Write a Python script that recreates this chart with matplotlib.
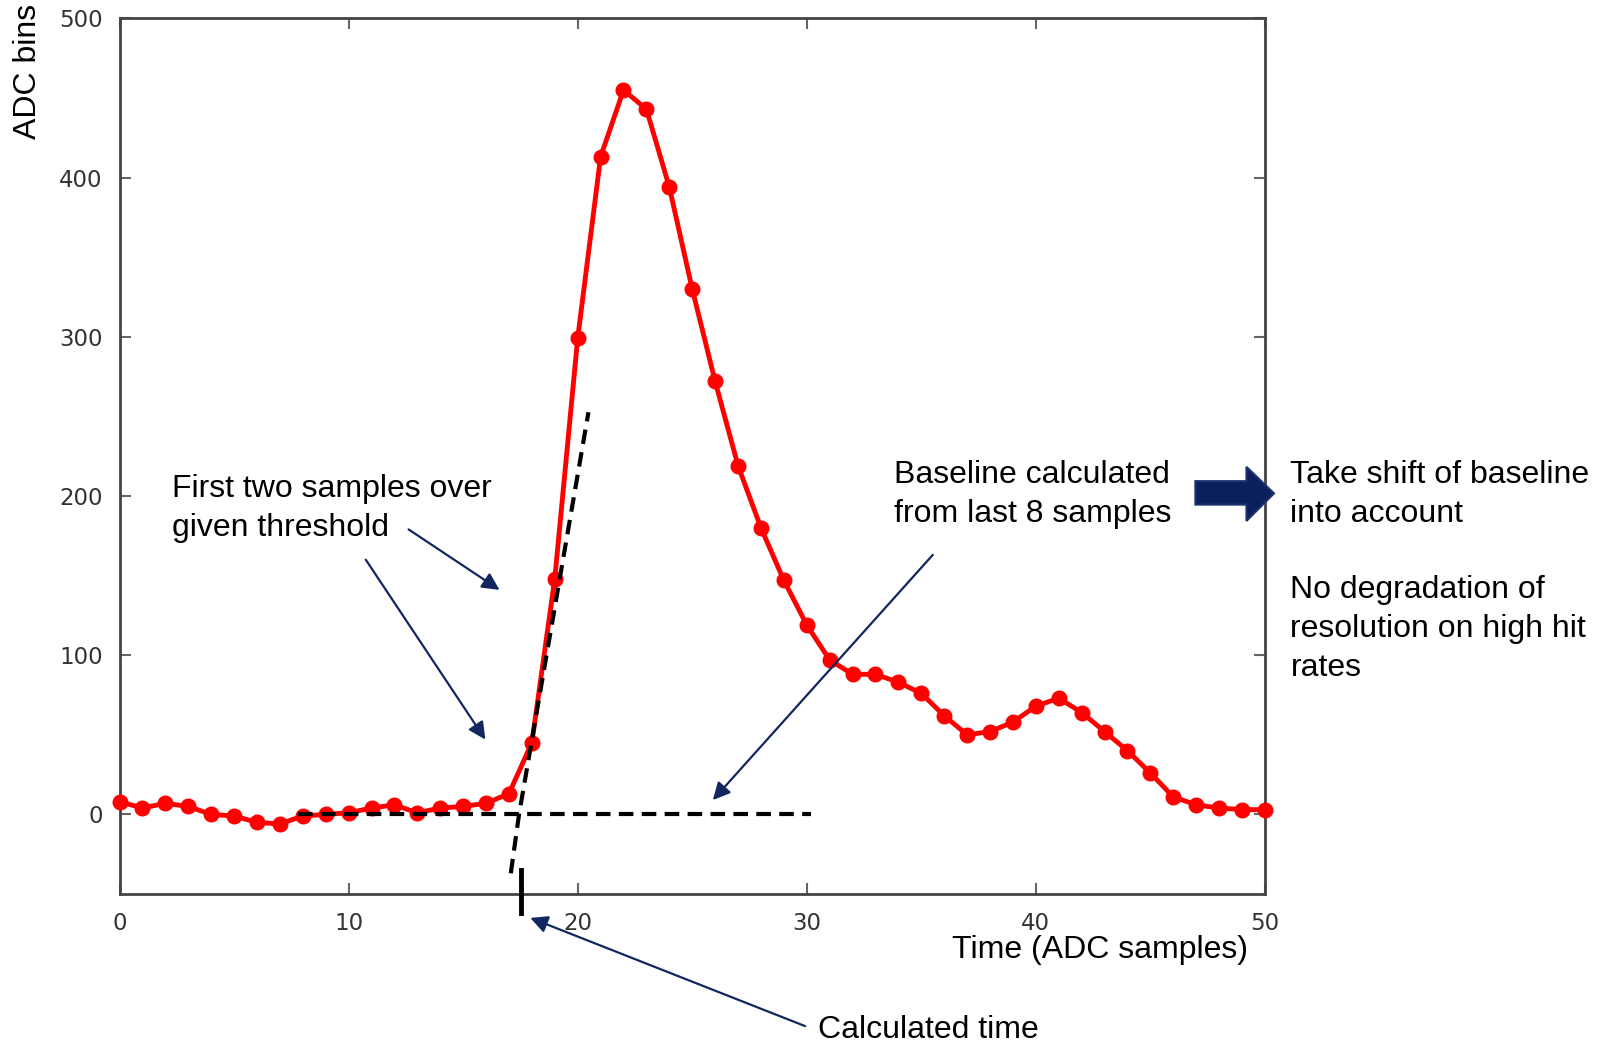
import matplotlib
matplotlib.use("Agg")
import matplotlib.pyplot as plt
import matplotlib.patches as mpatches

# sample index and ADC value
samples = list(range(51))
adc = [8, 4, 7, 5, 0, -1, -5, -6, -1, 0,
       1, 4, 6, 1, 4, 5, 7, 13, 45, 148,
       299, 413, 455, 443, 394, 330, 272, 219, 180, 147,
       119, 97, 88, 88, 83, 76, 62, 50, 52, 58,
       68, 73, 64, 52, 40, 26, 11, 6, 4, 3, 3]

baseline_x = [7.8, 30.2]
baseline_y = [0, 0]
slope_x = [17.08, 17.44, 20.47]
slope_y = [-37, 0, 252.6]
time_x = 17.53

xticks = [0, 10, 20, 30, 40, 50]
yticks = [0, 100, 200, 300, 400, 500]

NAVY = '#12275f'
TXT = dict(family='Liberation Sans', fontsize=23, color='black')


def ff(x, y):
    # pixel position in the 1568x1023 view -> figure fraction
    return x / 1568, 1 - y / 1023


fig = plt.figure(figsize=(16.02, 10.45), dpi=100)
ax = fig.add_axes([0.0746, 0.1445, 0.715, 0.8379])

ax.plot(samples, adc, color='red', lw=3.5, marker='o', ms=10.5, clip_on=False, zorder=3)
dash = (0, (3.5, 2))
ax.plot(baseline_x, baseline_y, color='black', lw=3, ls=dash, zorder=4)
ax.plot(slope_x, slope_y, color='black', lw=3, ls=dash, zorder=4, clip_on=False)
ax.plot([time_x, time_x], [-35, -62], color='black', lw=3.5, clip_on=False, zorder=4)

ax.set_xlim(0, 50)
ax.set_ylim(-50, 500)
ax.set_xticks(xticks)
ax.set_yticks(yticks)
ax.tick_params(direction='in', top=True, right=True, length=8, width=1.5,
               color='#666666', labelcolor='#333333', labelsize=16.5)
ax.tick_params(axis='x', pad=13)
ax.tick_params(axis='y', pad=12)
for s in ax.spines.values():
    s.set_color('#444444')
    s.set_linewidth(2)

# axis labels placed as in the picture
fig.text(*ff(27, 70), 'ADC bins', rotation=90, ha='center', va='center', **TXT)
fig.text(*ff(932, 930), 'Time (ADC samples)', ha='left', va='center', **TXT)

fig.text(*ff(168, 498), 'First two samples over\ngiven threshold',
         ha='left', va='center', linespacing=1.4, **TXT)
fig.text(*ff(875, 484), 'Baseline calculated\nfrom last 8 samples',
         ha='left', va='center', linespacing=1.4, **TXT)
fig.text(*ff(1263, 484), 'Take shift of baseline\ninto account',
         ha='left', va='center', linespacing=1.4, **TXT)
fig.text(*ff(1263, 616), 'No degradation of\nresolution on high hit\nrates',
         ha='left', va='center', linespacing=1.4, **TXT)
fig.text(*ff(801, 1008), 'Calculated time', ha='left', va='center', **TXT)

arrow = dict(arrowstyle='-|>', color=NAVY, lw=1.6, mutation_scale=26, shrinkA=0, shrinkB=0)
ax.annotate('', xy=(16.59, 141), xytext=(12.62, 179), arrowprops=arrow, annotation_clip=False)
ax.annotate('', xy=(15.97, 47), xytext=(10.75, 160), arrowprops=arrow, annotation_clip=False)
ax.annotate('', xy=(25.9, 9), xytext=(35.5, 163), arrowprops=arrow, annotation_clip=False)
ax.annotate('', xy=(17.93, -65), xytext=(29.93, -133), arrowprops=arrow, annotation_clip=False)

# block arrow between the two text columns
pts = [(1170, 471), (1220, 471), (1220, 457), (1247, 483), (1220, 510), (1220, 494), (1170, 494)]
fig.patches.append(mpatches.Polygon([ff(x, y) for x, y in pts], closed=True,
                                    transform=fig.transFigure, facecolor='#0b1f5c',
                                    edgecolor='#1a3370', lw=1.5))

fig.savefig('out.png', dpi=100)
